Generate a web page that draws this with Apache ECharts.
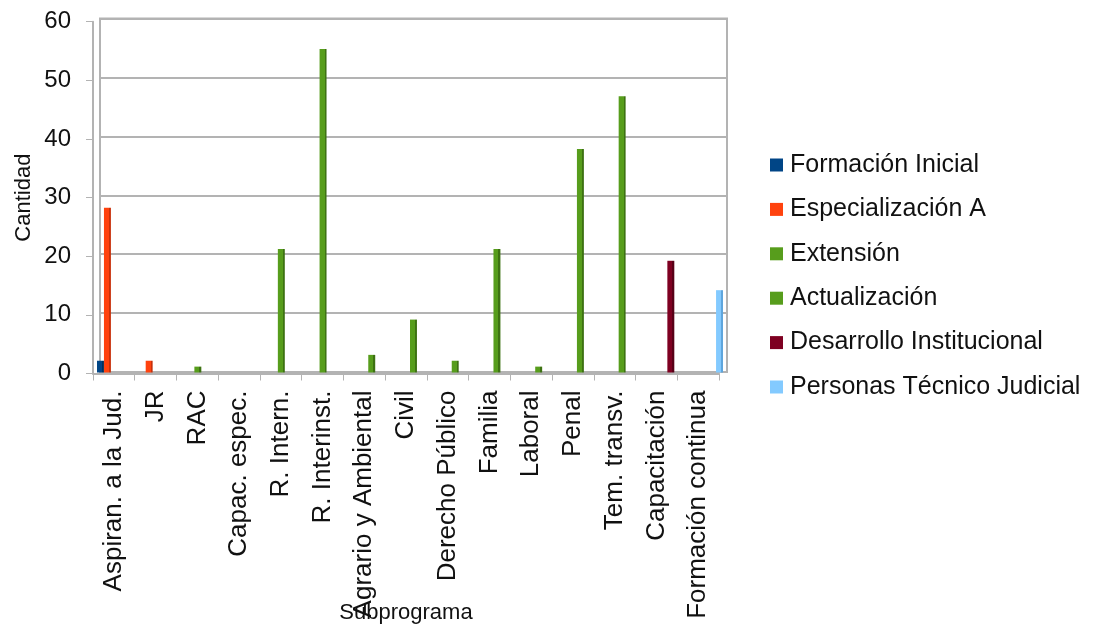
<!DOCTYPE html>
<html>
<head>
<meta charset="utf-8">
<script src="https://cdn.jsdelivr.net/npm/echarts@6/dist/echarts.min.js"></script>
<style>html,body{margin:0;padding:0;background:#fff;}#c{width:1101px;height:626px;}</style>
</head>
<body>
<div id="c"></div>
<script>
const categories = ['Aspiran. a la Jud.', 'JR', 'RAC', 'Capac. espec.', 'R. Intern.', 'R. Interinst.', 'Agrario y Ambiental', 'Civil', 'Derecho Público', 'Familia', 'Laboral', 'Penal', 'Tem. transv.', 'Capacitación', 'Formación continua'];
const seriesNames = ['Formación Inicial', 'Especialización A', 'Extensión', 'Actualización', 'Desarrollo Institucional', 'Personas Técnico Judicial'];
const formacionInicial = [2, 0, 0, 0, 0, 0, 0, 0, 0, 0, 0, 0, 0, 0, 0];
const especializacionA = [28, 2, 0, 0, 0, 0, 0, 0, 0, 0, 0, 0, 0, 0, 0];
const extension = [0, 0, 1, 0, 21, 55, 0, 0, 0, 0, 0, 0, 0, 0, 0];
const actualizacion = [0, 0, 0, 0, 0, 0, 3, 9, 2, 21, 1, 38, 47, 0, 0];
const desarrolloInstitucional = [0, 0, 0, 0, 0, 0, 0, 0, 0, 0, 0, 0, 0, 19, 0];
const personasTecnicoJudicial = [0, 0, 0, 0, 0, 0, 0, 0, 0, 0, 0, 0, 0, 0, 14];
const yTicks = [0, 10, 20, 30, 40, 50, 60];

const colors = ['#004586', '#ff420e', '#579d1c', '#579d1c', '#7e0021', '#83caff'];
const darks = ['#00305e', '#c8300a', '#3d7212', '#3d7212', '#580017', '#5fa6dd'];
const values = [formacionInicial, especializacionA, extension, actualizacion, desarrolloInstitucional, personasTecnicoJudicial];

const FONT = 'Liberation Sans, Arial, sans-serif';
const GRAY = '#b3b3b3';

const chart = echarts.init(document.getElementById('c'), null, {renderer: 'canvas'});
chart.setOption({
  backgroundColor: '#fff',
  animation: false,
  textStyle: {fontFamily: FONT},
  legend: {
    orient: 'vertical',
    left: 770,
    top: 152.5,
    padding: 0,
    itemWidth: 13,
    itemHeight: 13,
    itemGap: 19.4,
    icon: 'rect',
    textStyle: {fontSize: 25, color: '#111', fontFamily: FONT, padding: [0, 0, 0, 2]},
    data: seriesNames.map((n, i) => ({name: n, itemStyle: {color: colors[i]}}))
  },
  grid: [
    {left: 93, width: 626, top: 21.7, height: 351.8, show: false, containLabel: false, outerBoundsMode: 'none'},
    {left: 97, width: 626, top: 19.7, height: 352.8, show: false, containLabel: false, outerBoundsMode: 'none'},
    {left: 100, width: 627, top: 18.5, height: 353.5, show: true, borderColor: GRAY, borderWidth: 2, backgroundColor: 'transparent', containLabel: false, outerBoundsMode: 'none'}
  ],
  xAxis: [
    {
      gridIndex: 0, type: 'category', data: categories,
      name: 'Subprograma', nameLocation: 'middle', nameGap: 228, nameMoveOverlap: false,
      nameTextStyle: {fontSize: 22, color: '#111', fontFamily: FONT},
      axisLine: {show: true, lineStyle: {color: GRAY, width: 2}},
      axisTick: {show: true, length: 7, lineStyle: {color: GRAY, width: 1}, alignWithLabel: false},
      axisLabel: {rotate: 90, fontSize: 26, color: '#111', margin: 17, interval: 0, fontFamily: FONT},
      splitLine: {show: false}
    },
    {
      gridIndex: 1, type: 'category', data: categories,
      axisLine: {show: false}, axisTick: {show: false}, axisLabel: {show: false}, splitLine: {show: false}
    },
    {
      gridIndex: 2, type: 'category', data: categories,
      axisLine: {show: false}, axisTick: {show: false}, axisLabel: {show: false}, splitLine: {show: false}
    }
  ],
  yAxis: [
    {
      gridIndex: 0, type: 'value', min: yTicks[0], max: yTicks[yTicks.length - 1], interval: 10,
      name: 'Cantidad', nameLocation: 'middle', nameGap: 58, nameRotate: 90, nameMoveOverlap: false,
      nameTextStyle: {fontSize: 22, color: '#111', fontFamily: FONT},
      axisLine: {show: true, lineStyle: {color: GRAY, width: 2}},
      axisTick: {show: true, length: 7, lineStyle: {color: GRAY, width: 1}},
      axisLabel: {fontSize: 24, color: '#111', margin: 22, fontFamily: FONT},
      splitLine: {show: false}
    },
    {
      gridIndex: 1, type: 'value', min: 0, max: 60, interval: 10,
      axisLine: {show: false}, axisTick: {show: false}, axisLabel: {show: false}, splitLine: {show: false}
    },
    {
      gridIndex: 2, type: 'value', min: 0, max: 60, interval: 10,
      axisLine: {show: false}, axisTick: {show: false}, axisLabel: {show: false},
      splitLine: {show: true, lineStyle: {color: GRAY, width: 2}}
    }
  ],
  series: seriesNames.map((n, i) => ({
    name: n,
    type: 'bar',
    xAxisIndex: 1,
    yAxisIndex: 1,
    data: values[i],
    barGap: '0%',
    barCategoryGap: '0%',
    z: 5,
    itemStyle: {
      color: new echarts.graphic.LinearGradient(0, 0, 1, 0, [
        {offset: 0, color: colors[i]},
        {offset: 0.72, color: colors[i]},
        {offset: 0.72, color: darks[i]},
        {offset: 1, color: darks[i]}
      ])
    }
  }))
});
</script>
</body>
</html>
